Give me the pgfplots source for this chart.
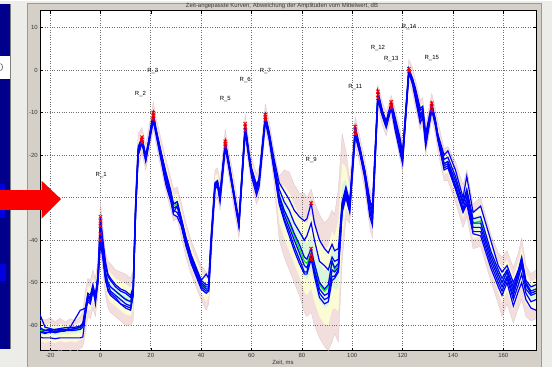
\documentclass[border=0pt]{standalone}
\usepackage{fontspec}
\setmainfont{Liberation Sans}
\usepackage{pgfplots}
\pgfplotsset{compat=1.18}
\usepackage{pgfplotstable}
\usepgfplotslibrary{fillbetween}

\pgfdeclarelayer{figbg}
\pgfdeclarelayer{axis background}
\pgfdeclarelayer{axis grid}
\pgfdeclarelayer{axis ticks}
\pgfdeclarelayer{axis lines}
\pgfdeclarelayer{axis tick labels}
\pgfdeclarelayer{pre main}
\pgfdeclarelayer{axis descriptions}
\pgfdeclarelayer{axis foreground}
\pgfplotsset{
  layers/mylayers/.define layer set={figbg,axis background,axis grid,axis ticks,axis lines,axis tick labels,pre main,main,axis descriptions,axis foreground}{
    axis background@ style={/pgfplots/on layer=axis background},
  },
  set layers=mylayers,
}

\definecolor{bglight}{RGB}{236,236,233}
\definecolor{panel}{RGB}{212,208,200}
\definecolor{navy}{RGB}{0,0,140}
\definecolor{brightblue}{RGB}{0,0,225}
\definecolor{pinkband}{RGB}{243,222,222}
\definecolor{pinkedge}{RGB}{222,196,196}
\definecolor{yelband}{RGB}{251,251,212}
\definecolor{grnband}{RGB}{218,246,218}
\definecolor{meangreen}{RGB}{0,235,0}
\definecolor{curveblue}{RGB}{0,0,255}
\definecolor{gridc}{RGB}{110,110,110}
\definecolor{tickc}{RGB}{55,55,55}
\definecolor{arrowred}{RGB}{250,0,0}

\pgfplotstableread{
x m a b c d e f plo phi ylo yhi glo ghi
-24 -61.3 -57.5 -60.5 -61.5 -62 -62.8 -60.8 -66.5 -59 -64 -60 -62.2 -60.7
-23 -61.3 -59 -61 -61.8 -61.5 -63 -61 -66.2 -58.6 -63.8 -59.8 -62.2 -60.6
-22 -61.4 -60.5 -61.2 -62 -61.8 -63 -61.3 -66.8 -58.8 -64.2 -60 -62.3 -60.7
-20 -61.3 -60.8 -61 -61.5 -61.7 -63 -61.2 -66 -58.3 -63.8 -59.6 -62.2 -60.5
-18 -61.5 -61.2 -61 -61.8 -61.5 -63.2 -61.5 -66.5 -59.2 -64.2 -60.3 -62.4 -60.8
-16 -61.3 -61 -60.8 -61.5 -61.5 -63 -61.2 -65.8 -58.4 -63.7 -59.7 -62.2 -60.6
-14 -61.2 -61 -60.6 -61.4 -61.3 -63 -61 -66.5 -59.3 -64.1 -60.2 -62.1 -60.6
-12 -61.2 -61 -60.5 -60.5 -61.3 -63 -61 -66 -58.5 -63.8 -59.8 -62.1 -60.5
-10 -61 -60.8 -60.5 -58.5 -61.2 -63 -60.8 -66.4 -59 -64 -60 -62 -60.4
-8 -60.8 -60.5 -60.2 -56.5 -61 -63 -60.5 -65.5 -58 -63.5 -59.4 -61.7 -60.1
-7 -60 -60 -59.5 -56.3 -60.5 -62.8 -60 -65 -57 -63 -58.5 -61 -59.3
-6 -57 -56.5 -56 -56 -57 -58 -57 -62 -52 -60 -54 -58.5 -55.5
-5 -53.5 -53 -52.5 -54.5 -53 -54 -53.5 -58 -49 -56.2 -50.8 -54.8 -52.2
-4 -53.8 -53.5 -53 -55 -54 -54.5 -54 -58.5 -49.5 -56.6 -51.2 -55.2 -52.5
-3 -51.5 -51 -50.5 -52 -51 -52 -51.5 -56 -47 -54.2 -48.8 -52.8 -50.2
-2 -53.5 -53.5 -53 -54 -55 -54 -53.5 -58 -49 -56.2 -50.8 -54.8 -52.2
-1 -49 -48 -48.5 -49 -50 -50 -49.5 -53 -45 -51.4 -46.6 -50.2 -47.8
0 -38 -34.5 -35.5 -36.7 -38.5 -40 -40.5 -43 -31 -41 -33.8 -39.5 -35.9
1 -42.5 -40 -41 -42 -43 -44 -44.5 -47 -37 -45.2 -39.2 -43.8 -40.9
2 -47.5 -45 -46 -47.5 -48.5 -49 -49.5 -53 -43 -50.8 -44.8 -49.2 -46.2
3 -50 -48 -48.5 -50 -50.5 -52 -51.5 -56 -45 -53.6 -47 -51.8 -48.5
4 -51 -49 -49.5 -51 -52 -53 -52.5 -57 -45.5 -54.6 -47.7 -52.8 -49.4
6 -52 -50.5 -51 -52 -53 -54 -53.5 -58 -47 -55.6 -49 -53.8 -50.5
8 -53 -51.5 -52 -53 -54 -55 -55 -59 -47.5 -56.6 -49.7 -54.8 -51.4
10 -53.8 -52 -52.5 -54 -55 -55.5 -56 -60 -48 -57.5 -50.3 -55.7 -52.1
12 -54.5 -53 -53.5 -54.5 -55.5 -56 -56.5 -60 -49 -57.8 -51.2 -56.2 -52.9
13 -52 -51 -51.5 -52 -53 -52.5 -53 -59 -47 -56.2 -49 -54.1 -50.5
14 -32 -31 -31.5 -32 -32.5 -33 -33 -37 -27 -35 -29 -33.5 -30.5
15 -19 -18 -18.5 -19 -19.5 -20 -20 -23 -15 -21.4 -16.6 -20.2 -17.8
16.5 -16.5 -15.8 -16 -16.3 -16.7 -17 -17.2 -19.5 -13.5 -18.3 -14.7 -17.4 -15.6
18 -20.5 -20 -20.3 -20.5 -21 -21.2 -21.5 -23.5 -17.5 -22.3 -18.7 -21.4 -19.6
19 -17.5 -17 -17.2 -17.5 -17.8 -18 -18.3 -20.5 -14.5 -19.3 -15.7 -18.4 -16.6
21 -11 -10 -10.3 -10.7 -11 -11.5 -12 -14 -7.5 -12.8 -8.9 -11.9 -10
22 -14 -13.5 -13.8 -14 -14.2 -14.5 -15 -17 -11 -15.8 -12.2 -14.9 -13.1
24 -19.5 -19 -19.2 -19.5 -20 -20.5 -21 -23 -16 -21.6 -17.4 -20.5 -18.5
26 -24.5 -24 -24.5 -25 -25.5 -26 -27 -28.5 -21 -26.9 -22.4 -25.7 -23.5
28 -29 -28.5 -29 -29.5 -30 -30.5 -31 -33 -25.5 -31.4 -26.9 -30.2 -28
29 -32 -31.5 -31.5 -32.5 -33 -33.5 -34 -35.5 -28 -34.1 -29.6 -33 -30.8
30.5 -31.5 -31 -31 -32 -33.5 -32 -34.5 -35 -27.5 -33.6 -29.1 -32.5 -30.3
32 -35 -34.5 -34.8 -35 -35.5 -36 -36.5 -39 -31 -37.4 -32.6 -36.2 -33.8
34 -40 -39.5 -39.5 -40 -40.5 -41 -41.5 -44 -36 -42.4 -37.6 -41.2 -38.8
36 -44 -43.5 -43.5 -44 -44.5 -45 -45.5 -48 -40 -46.4 -41.6 -45.2 -42.8
38 -47 -46.5 -46.5 -47 -47.5 -48 -48.5 -51 -43 -49.4 -44.6 -48.2 -45.8
40 -50 -49.5 -49.5 -50 -50.5 -51 -51.5 -54 -46 -52.4 -47.6 -51.2 -48.8
42 -51.5 -48 -50.5 -51 -51.5 -52 -52.5 -56.5 -47.5 -54.5 -49.1 -53 -50.3
43 -51 -49 -50.5 -51 -51.5 -51.8 -52 -55 -47.5 -53.4 -48.9 -52.2 -50
44 -40 -39 -39.5 -40 -40.5 -41 -41 -45 -36 -43 -37.6 -41.5 -38.8
45.5 -27 -26.5 -26.8 -27 -27.3 -27.5 -28 -31 -23.5 -29.4 -24.9 -28.2 -26
46.5 -26.5 -26 -26.3 -26.5 -26.8 -27 -27.3 -30 -23 -28.6 -24.4 -27.5 -25.5
47.5 -29.5 -29 -29.2 -29.5 -30 -30.5 -31 -33 -26 -31.6 -27.4 -30.5 -28.5
49.6 -17.5 -16.8 -17 -17.3 -17.6 -18 -18.3 -20.5 -14 -19.3 -15.4 -18.4 -16.5
51 -22 -21.5 -21.8 -22 -22.3 -22.5 -23 -25 -19 -23.8 -20.2 -22.9 -21.1
53 -29 -28.5 -28.8 -29 -29.3 -29.5 -30 -32.5 -25.5 -31.1 -26.9 -30 -28
55 -36 -35.5 -35.8 -36 -36.3 -36.5 -37 -39.5 -33 -38.1 -34.2 -37 -35.1
57.5 -13.5 -12.6 -13 -13.4 -13.8 -14.2 -14.6 -16.5 -10.5 -15.3 -11.7 -14.4 -12.6
59 -20 -19.5 -19.8 -20 -20.3 -20.6 -21 -23 -17 -21.8 -18.2 -20.9 -19.1
60 -23.5 -23 -23.3 -23.5 -24 -24.5 -25 -27 -20.5 -25.6 -21.7 -24.5 -22.6
62 -27.5 -27 -27.2 -27.5 -28 -28.5 -29.5 -31.5 -24.5 -29.9 -25.7 -28.7 -26.6
63 -26 -25.5 -25.8 -26 -26.3 -26.8 -27.5 -30 -23 -28.4 -24.2 -27.2 -25.1
65.5 -11.2 -10.5 -10.8 -11 -11.3 -11.7 -12.2 -14 -8 -12.9 -9.3 -12 -10.2
67 -15 -14.5 -14.8 -15 -15.3 -15.8 -16.3 -18 -12 -16.8 -13.2 -15.9 -14.1
69 -22.5 -21 -22 -22.5 -23 -23.5 -24 -26.5 -19 -24.9 -20.4 -23.7 -21.5
71 -29.5 -26.5 -28 -29.5 -30 -31 -31.5 -40 -25 -35.8 -26.8 -32.7 -28.2
73 -33 -28.5 -31 -33 -34 -35 -35.5 -44 -23.5 -39.6 -27.3 -36.3 -30.2
75 -36 -30.5 -33 -35.5 -37 -38 -39 -47 -24 -42.6 -28.8 -39.3 -32.4
77 -39 -33 -36 -38.5 -40 -41.5 -42.5 -50 -27 -45.6 -31.8 -42.3 -35.4
79 -42 -34.5 -38 -41 -43 -44.5 -45.5 -53 -29 -48.6 -34.2 -45.3 -38.1
81 -45 -35.5 -40 -44 -46 -47.5 -48 -57 -29 -52.2 -35.4 -48.6 -40.2
82 -45.5 -35 -39 -44.5 -46.5 -47.5 -48 -58 -30 -53 -36.2 -49.3 -40.9
83.7 -43 -31.3 -36 -42 -43.5 -43.5 -44.5 -57 -28 -51.4 -34 -47.2 -38.5
85 -46 -36 -40 -45.5 -47 -47.5 -48.5 -60 -31 -54.4 -37 -50.2 -41.5
87 -50.5 -40 -45 -50 -51.5 -52.5 -53.5 -63 -34 -58 -40.6 -54.3 -45.6
89 -52 -42 -46 -51.5 -53 -54 -55 -65 -36 -59.8 -42.4 -55.9 -47.2
90.5 -51 -43 -47 -50.5 -52.5 -53.5 -54.5 -66 -35 -60 -41.4 -55.5 -46.2
92 -45 -41 -44 -45 -47 -48.5 -49.5 -64 -33 -56.4 -37.8 -50.7 -41.4
93 -47 -42.5 -45 -46.5 -47.5 -48.5 -49 -62 -34 -56 -39.2 -51.5 -43.1
94.5 -46 -42 -44.5 -45.5 -46.5 -47 -47.5 -64 -28 -56.8 -35.2 -51.4 -40.6
96 -32 -31 -31.5 -32 -32.5 -33 -33.5 -45 -15 -39.8 -21.8 -35.9 -26.9
97.5 -28.5 -27.5 -28 -28.5 -29 -29.5 -30 -35 -19 -32.4 -22.8 -30.5 -25.7
99 -32 -31 -31.5 -32 -32.5 -33 -33.5 -36 -26 -34.4 -28.4 -33.2 -30.2
101.2 -14.5 -13.3 -13.8 -14.2 -14.6 -15 -15.5 -17.5 -11 -16.3 -12.4 -15.4 -13.5
103 -18.5 -18 -18.2 -18.5 -19 -19.3 -19.6 -22 -15.5 -20.6 -16.7 -19.6 -17.6
105 -24 -23.5 -23.8 -24 -24.5 -25 -25.5 -28 -21 -26.4 -22.2 -25.2 -23.1
107 -32 -30.5 -31 -32 -33 -33.5 -34.5 -37 -28 -35 -29.6 -33.5 -30.8
108 -34 -32.5 -33 -34 -35 -35.5 -36.5 -39.5 -30 -37.3 -31.6 -35.7 -32.8
110.2 -6 -5 -5.4 -5.8 -6.2 -6.6 -7 -9 -3.5 -7.8 -4.5 -6.9 -5.3
112 -10 -9.5 -9.8 -10 -10.3 -10.6 -11 -13 -7.5 -11.8 -8.5 -10.9 -9.3
113.5 -12.5 -12 -12.2 -12.5 -12.8 -13.2 -13.6 -15.5 -10 -14.3 -11 -13.4 -11.8
115.5 -8.2 -7.5 -7.8 -8 -8.3 -8.6 -9 -11 -6 -9.9 -6.9 -9 -7.5
117 -12 -11 -11.5 -12 -12.5 -13 -14 -15 -9 -13.8 -10.2 -12.9 -11.1
119 -17 -16 -16.5 -17 -17.5 -18.5 -19.5 -21 -14 -19.4 -15.2 -18.2 -16.1
120 -20.5 -19.5 -20 -20.5 -21 -21.5 -22 -24 -17.5 -22.6 -18.7 -21.5 -19.6
122.5 0 0.3 0.2 0 -0.2 -0.4 -0.6 -2.5 2.5 -1.5 1.5 -0.8 0.8
124 -2.5 -2 -2.2 -2.5 -2.8 -3.2 -3.5 -5.5 0.5 -4.3 -0.7 -3.4 -1.6
125 -5 -4 -4.5 -5 -5.5 -6 -6.5 -8.5 -2 -7.1 -3.2 -6 -4.1
127 -10.5 -9 -9.5 -10.5 -11 -11.5 -12.5 -14 -7 -12.6 -8.4 -11.5 -9.5
128 -9.5 -8.5 -9 -9.5 -10 -10.5 -11 -13 -6.5 -11.6 -7.7 -10.5 -8.6
129.2 -16.5 -15 -15.5 -16.5 -17 -17.5 -18 -20 -13 -18.6 -14.4 -17.5 -15.5
131.6 -8.5 -7.8 -8 -8.3 -8.7 -9 -9.5 -11.5 -5.5 -10.3 -6.7 -9.4 -7.6
133 -12 -11.5 -11.8 -12 -12.3 -12.6 -13 -15 -9 -13.8 -10.2 -12.9 -11.1
134 -15.5 -15 -15.2 -15.5 -15.8 -16.2 -16.5 -19 -12 -17.6 -13.4 -16.5 -14.5
136.5 -22 -20 -21 -22 -22.5 -23 -23.5 -26 -18.5 -24.4 -19.9 -23.2 -21
138 -21.5 -19 -20.5 -21.5 -22 -22.5 -23 -26 -18 -24.2 -19.4 -22.8 -20.5
141 -26 -23.5 -25 -26 -27 -27.5 -28 -31 -21.5 -29 -23.3 -27.5 -24.7
144 -31.5 -30 -31 -31.5 -32.5 -33 -33.5 -37 -27 -34.8 -28.8 -33.2 -30.2
145.5 -28.5 -25 -28 -29 -30 -31 -31.5 -34.5 -23.5 -32.1 -25.5 -30.3 -27
148 -36 -33.5 -35 -36 -37 -38 -38.5 -42 -31.5 -39.6 -33.3 -37.8 -34.7
151 -35.5 -32 -34.5 -36 -37 -38 -39 -41.5 -30 -39.1 -32.2 -37.3 -33.9
155 -43.5 -40 -42.5 -43.5 -44.5 -45.5 -46.5 -49.5 -38.5 -47.1 -40.5 -45.3 -42
158 -48 -46 -47 -48 -49 -50 -51 -55 -43 -52.2 -45 -50.1 -46.5
159.5 -50 -47.5 -49 -50 -51 -52 -53 -58 -44 -54.8 -46.4 -52.4 -48.2
161.5 -47.5 -46 -47 -47.5 -48.5 -49 -50 -55 -42.5 -52 -44.5 -49.8 -46
164 -52 -50 -51 -52 -53 -54 -55.5 -59.5 -46.5 -56.5 -48.7 -54.3 -50.3
166 -48 -47 -47.5 -48 -49 -50.5 -52 -56 -43 -52.8 -45 -50.4 -46.5
167.3 -45 -44 -44.5 -45 -46 -48 -50 -54 -39.5 -50.4 -41.7 -47.7 -43.4
169 -50.5 -49.5 -50 -50.5 -51.5 -52.5 -54 -58 -46 -55 -47.8 -52.8 -49.2
171 -52.5 -51 -52 -52.5 -53 -54.5 -56 -59 -48 -56.4 -49.8 -54.5 -51.2
173 -52 -50.5 -51.5 -52 -52.5 -54 -56.5 -58.5 -47 -55.9 -49 -54 -50.5
}\data

\begin{document}
\begin{tikzpicture}
\pgfsetlayers{figbg,axis background,axis grid,axis ticks,axis lines,axis tick labels,pre main,main,axis descriptions,axis foreground}
\begin{axis}[
  at={(40bp,16bp)}, anchor=south west,
  scale only axis, width=496bp, height=340bp,
  xmin=-24, xmax=173, ymin=-66, ymax=14,
  axis background/.style={fill=white},
  xtick={-20,0,20,40,60,80,100,120,140,160},
  ytick={-60,-50,-40,-30,-20,-10,0,10},
  grid=major,
  major grid style={dotted, line width=0.6bp, color=gridc},
  tick align=inside,
  major tick length=3bp,
  tick style={black, line width=0.4bp},
  axis line style={black, line width=0.5bp},
  /pgf/number format/assume math mode=true,
  ticklabel style={font=\fontsize{6}{7}\selectfont, text=tickc},
  xticklabel style={inner sep=1.5bp, yshift=-1bp},
  yticklabel style={inner sep=2bp},
  clip=true,
]
\addplot[name path=PH, draw=pinkedge, line width=0.3bp, forget plot] table[x=x,y=phi]{\data};
\addplot[name path=PL, draw=pinkedge, line width=0.3bp, forget plot] table[x=x,y=plo]{\data};
\addplot[fill=pinkband, draw=none, forget plot] fill between[of=PH and PL];
\addplot[name path=YH, draw=none, forget plot] table[x=x,y=yhi]{\data};
\addplot[name path=YL, draw=none, forget plot] table[x=x,y=ylo]{\data};
\addplot[fill=yelband, draw=none, forget plot] fill between[of=YH and YL];
\addplot[name path=GH, draw=none, forget plot] table[x=x,y=ghi]{\data};
\addplot[name path=GL, draw=none, forget plot] table[x=x,y=glo]{\data};
\addplot[fill=grnband, draw=none, forget plot] fill between[of=GH and GL];

\addplot[meangreen, line width=1.2bp] table[x=x,y=m]{\data};
\addplot[curveblue, line width=1.2bp] table[x=x,y=a]{\data};
\addplot[curveblue, line width=1.2bp] table[x=x,y=b]{\data};
\addplot[curveblue, line width=1.2bp] table[x=x,y=c]{\data};
\addplot[curveblue, line width=1.2bp] table[x=x,y=d]{\data};
\addplot[curveblue, line width=1.2bp] table[x=x,y=e]{\data};
\addplot[curveblue, line width=1.2bp] table[x=x,y=f]{\data};

\addplot[only marks, mark=x, mark size=2.4bp, red, line width=0.9bp] coordinates {
(0,-34.5) (0,-35.5) (0,-36.7) (0,-38.5) (0,-40)
(16.5,-15.8) (16.5,-16.3) (16.5,-17)
(21,-10) (21,-10.7) (21,-11.5)
(49.6,-16.8) (49.6,-17.3) (49.6,-18)
(57.5,-12.6) (57.5,-13.4) (57.5,-14.2)
(65.5,-10.5) (65.5,-11) (65.5,-11.7)
(83.7,-31.3) (83.7,-42) (83.7,-43.5) (83.7,-44.5)
(101.2,-13.3) (101.2,-14.2) (101.2,-15)
(110.2,-5) (110.2,-5.8) (110.2,-6.6)
(115.5,-7.5) (115.5,-8.3) (115.5,-9)
(122.5,0.3) (122.5,-0.2)
(131.6,-7.8) (131.6,-8.7) (131.6,-9.5)
};

\begin{scope}[every node/.style={font=\fontsize{6}{7}\selectfont, text=black, inner sep=0pt}]
\node at (axis cs:0.3,-24.8) {R\_1};
\node at (axis cs:15.9,-5.7) {R\_2};
\node at (axis cs:20.8,-0.2) {R\_3};
\node at (axis cs:49.6,-6.8) {R\_5};
\node at (axis cs:57.5,-2.4) {R\_6};
\node at (axis cs:65.5,-0.2) {R\_7};
\node at (axis cs:83.7,-21.2) {R\_9};
\node at (axis cs:101.2,-4) {R\_11};
\node at (axis cs:110.2,5.3) {R\_12};
\node at (axis cs:115.5,2.5) {R\_13};
\node at (axis cs:122.6,10.1) {R\_14};
\node at (axis cs:131.6,2.8) {R\_15};
\end{scope}
\end{axis}

\begin{pgfonlayer}{figbg}
\begin{scope}[x=1bp,y=1bp]
\fill[bglight] (0,0) rectangle (552,366);
\fill[panel] (27,0) rectangle (541,363);
\draw[gray!80,line width=0.5bp] (27,0) -- (27,363) -- (541,363) -- (541,0);
\fill[navy] (0,18) rectangle (10,363);
\fill[brightblue] (0,149) rectangle (5,183);
\fill[brightblue] (0,86) rectangle (6,103);
\fill[white] (0,288) rectangle (10,311);
\draw[black!70, line width=0.6bp] (0.5,303) arc[start angle=90, end angle=-90, x radius=2bp, y radius=3.5bp];
\draw[gray,line width=1bp] (10.5,18) -- (10.5,363);
\end{scope}
\end{pgfonlayer}

\begin{scope}[x=1bp,y=1bp]
\node[font=\fontsize{6}{7}\selectfont, text=tickc] at (282,360.5) {Zeit-angepasste Kurven, Abweichung der Amplituden vom Mittelwert, dB};
\node[font=\fontsize{6}{7}\selectfont, text=tickc] at (283,3.5) {Zeit, ms};
\fill[arrowred] (0,157) rectangle (42,177);
\fill[arrowred] (41.5,186) -- (61,167.5) -- (41.5,148) -- cycle;
\end{scope}
\end{tikzpicture}
\end{document}
